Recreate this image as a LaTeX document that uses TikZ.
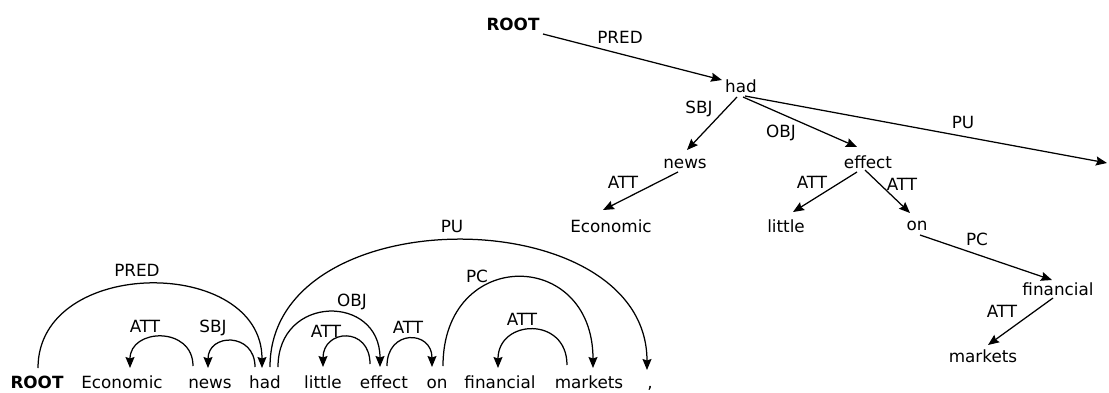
\documentclass[tikz,border=0pt]{standalone}
\usepackage{fontspec}
\setmainfont{DejaVu Sans}
\usetikzlibrary{arrows.meta}
\begin{document}
\begin{tikzpicture}[x=1pt,y=-1pt,
  word/.style={anchor=base,inner sep=0pt,font=\fontsize{16.8}{19}\selectfont},
  rootword/.style={word,font=\fontsize{16.8}{19}\selectfont\bfseries},
  rel/.style={anchor=base,inner sep=0pt,font=\fontsize{16.8}{19}\selectfont},
  dep/.style={line width=1.25pt,-{Stealth[length=11pt,width=9pt,inset=1.5pt]}}]
\useasboundingbox (0,0) rectangle (1109,392);

% ---------- tree view ----------
\node[rootword] (tROOT) at (513,30) {ROOT};
\node[word] (thad) at (741,92) {had};
\node[word] (tnews) at (685,168) {news};
\node[word] (teffect) at (868,168) {effect};
\node[word] (tEconomic) at (611,232) {Economic};
\node[word] (tlittle) at (786,232) {little};
\node[word] (ton) at (917,230) {on};
\node[word] (tfinancial) at (1058,295) {financial};
\node[word] (tmarkets) at (983,362) {markets};
\coordinate (tpunct) at (1107,163);

\draw[dep] ([xshift=30pt,yshift=-4pt]tROOT.base) -- ([xshift=-19pt,yshift=12pt]thad.base);
\draw[dep] ([xshift=-4pt,yshift=-5pt]thad.base) -- ([xshift=2pt,yshift=18pt]tnews.base);
\draw[dep] ([xshift=2pt,yshift=-5pt]thad.base) -- ([xshift=-11pt,yshift=21pt]teffect.base);
\draw[dep] ([xshift=4pt,yshift=-4pt]thad.base) -- (tpunct);
\draw[dep] ([xshift=-7pt,yshift=-4pt]tnews.base) -- ([xshift=-8pt,yshift=22pt]tEconomic.base);
\draw[dep] ([xshift=-11pt,yshift=-4pt]teffect.base) -- ([xshift=7pt,yshift=20pt]tlittle.base);
\draw[dep] ([xshift=-3pt,yshift=-2pt]teffect.base) -- ([xshift=-7pt,yshift=17pt]ton.base);
\draw[dep] ([xshift=3pt,yshift=-5pt]ton.base) -- ([xshift=-6pt,yshift=15pt]tfinancial.base);
\draw[dep] ([xshift=-5pt,yshift=-3pt]tfinancial.base) -- ([xshift=5pt,yshift=17pt]tmarkets.base);

\node[rel] (tlPRED) at (620,43) {PRED};
\node[rel] (tlSBJ) at (699,113) {SBJ};
\node[rel] (tlOBJ) at (781,137) {OBJ};
\node[rel] (tlPU) at (963,128) {PU};
\node[rel] (tlATTa) at (623,188) {ATT};
\node[rel] (tlATTb) at (812,188) {ATT};
\node[rel] (tlATTc) at (902,190) {ATT};
\node[rel] (tlPC) at (977,245) {PC};
\node[rel] (tlATTd) at (1002,317) {ATT};

% ---------- arc view ----------
\node[rootword] (bROOT) at (37,388) {ROOT};
\node[word] (bEconomic) at (122,388) {Economic};
\node[word] (bnews) at (210,388) {news};
\node[word] (bhad) at (265,388) {had};
\node[word] (blittle) at (323,388) {little};
\node[word] (beffect) at (384,388) {effect};
\node[word] (bon) at (437,388) {on};
\node[word] (bfinancial) at (500,388) {financial};
\node[word] (bmarkets) at (589,388) {markets};
\node[word] (bpunct) at (650,388) {,};

\draw[dep] ([xshift=1pt,yshift=20pt]bROOT.base) .. controls +(0,-112) and +(0,-112) .. ([xshift=-3pt,yshift=20pt]bhad.base);
\draw[dep] ([xshift=-17pt,yshift=22pt]bnews.base) .. controls +(0,-40) and +(0,-40) .. ([xshift=8pt,yshift=20pt]bEconomic.base);
\draw[dep] ([xshift=-10pt,yshift=21pt]bhad.base) .. controls +(0,-35) and +(0,-35) .. ([xshift=-2pt,yshift=20pt]bnews.base);
\draw[dep] ([xshift=5pt,yshift=21pt]bhad.base) .. controls +(0,-171) and +(0,-171) .. ([xshift=-3pt,yshift=18pt]bpunct.base);
\draw[dep] ([xshift=13pt,yshift=21pt]bhad.base) .. controls +(0,-73) and +(0,-73) .. ([xshift=-4pt,yshift=21pt]beffect.base);
\draw[dep] ([xshift=-14pt,yshift=24pt]beffect.base) .. controls +(0,-38) and +(0,-38) .. ([xshift=0pt,yshift=21pt]blittle.base);
\draw[dep] ([xshift=3pt,yshift=22pt]beffect.base) .. controls +(0,-37) and +(0,-37) .. ([xshift=-5pt,yshift=21pt]bon.base);
\draw[dep] ([xshift=6pt,yshift=22pt]bon.base) .. controls +(0,-119) and +(0,-120) .. ([xshift=4pt,yshift=20pt]bmarkets.base);
\draw[dep] ([xshift=-22pt,yshift=23pt]bmarkets.base) .. controls +(0,-49) and +(0,-49) .. ([xshift=-2pt,yshift=20pt]bfinancial.base);

\node[rel] (blPRED) at (137,276) {PRED};
\node[rel] (blATTa) at (145,332) {ATT};
\node[rel] (blSBJ) at (213,332) {SBJ};
\node[rel] (blPU) at (452,232) {PU};
\node[rel] (blOBJ) at (352,306) {OBJ};
\node[rel] (blATTb) at (326,337) {ATT};
\node[rel] (blATTc) at (408,333) {ATT};
\node[rel] (blPC) at (477,282) {PC};
\node[rel] (blATTd) at (522,325) {ATT};
\end{tikzpicture}
\end{document}
